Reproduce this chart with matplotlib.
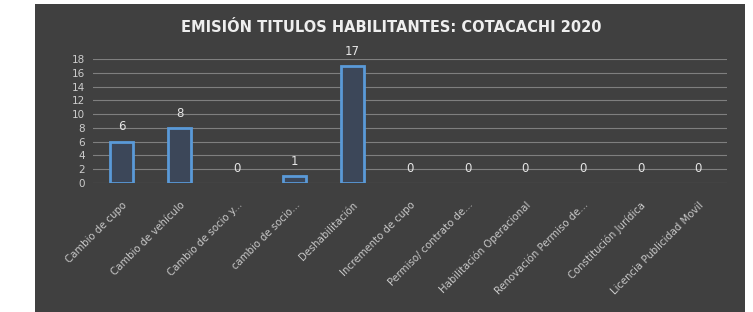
import matplotlib
matplotlib.use("Agg")
import matplotlib.pyplot as plt
from matplotlib.patches import Rectangle

categories = ["Cambio de cupo", "Cambio de vehículo", "Cambio de socio y...",
              "cambio de socio...", "Deshabilitación", "Incremento de cupo",
              "Permiso/ contrato de...", "Habilitación Operacional",
              "Renovación Permiso de...", "Constitución Jurídica",
              "Licencia Publicidad Movil"]
values = [6, 8, 0, 1, 17, 0, 0, 0, 0, 0, 0]
yticks = [0, 2, 4, 6, 8, 10, 12, 14, 16, 18]
title = "EMISIÓN TITULOS HABILITANTES: COTACACHI 2020"

fam = "DejaVu Sans"

fig = plt.figure(figsize=(7.53, 3.12), dpi=100, facecolor="white")
fig.patches.append(Rectangle((35/753, 0), (745-35)/753, 1-4/312,
                             transform=fig.transFigure, facecolor="#404040",
                             edgecolor="none", zorder=-10))

ax = fig.add_axes([93/753, 1-183/312, (727-93)/753, (183-59)/312])
ax.set_zorder(2)
ax.set_facecolor("none")
x = list(range(len(categories)))
bars = ax.bar(x, values, width=0.4, facecolor="#3c4759", edgecolor="#5a9ad8",
              linewidth=2.0, zorder=3)
for b, v in zip(bars, values):
    if v == 0:
        b.set_visible(False)
for xi, v in zip(x, values):
    ax.annotate(str(v), (xi, v), xytext=(0, 6), textcoords="offset points",
                ha="center", va="bottom", color="#e6e6e6", fontsize=8.5,
                family=fam, zorder=4)

ax.set_xlim(-0.5, len(categories) - 0.5)
ax.set_ylim(0, 18)
ax.set_yticks(yticks)
ax.set_yticklabels([str(t) for t in yticks], color="#cccccc", fontsize=7.5,
                   family=fam)
ax.set_xticks(x)
ax.set_xticklabels(categories, rotation=45, ha="right", rotation_mode="anchor",
                   color="#c8c8c8", fontsize=7.3, family=fam)
ax.tick_params(axis="y", length=0, pad=6)
ax.tick_params(axis="x", length=0, pad=12)
ax.yaxis.grid(True, color="#7f7f7f", linewidth=0.8, zorder=1)
for s in ax.spines.values():
    s.set_visible(False)

fig.text(391/753, 1-28/312, title, ha="center", va="center", color="#eeeeee",
         fontsize=10.5, fontweight="bold", family=fam)

fig.savefig("out.png", dpi=100, facecolor=fig.get_facecolor())
